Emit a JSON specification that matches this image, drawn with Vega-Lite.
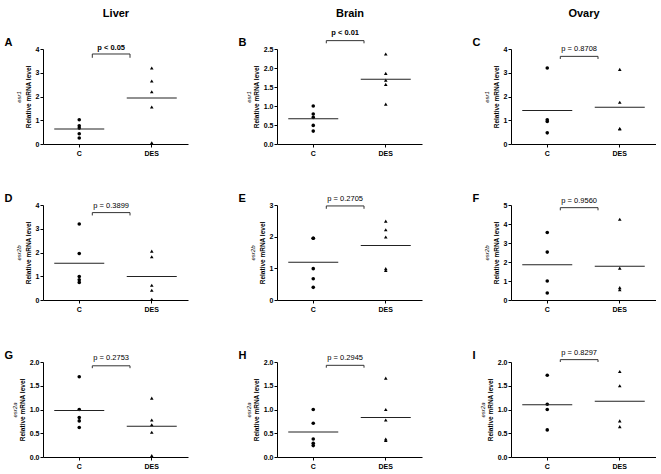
{
  "$schema": "https://vega.github.io/schema/vega-lite/v6.json",
  "padding": {"left": 4, "top": 7, "right": 0, "bottom": 0},
  "config": {
    "font": "Liberation Sans",
    "view": {"stroke": null},
    "axis": {"grid": false, "labelFont": "Liberation Sans", "titleFont": "Liberation Sans", "labelColor": "black", "titleColor": "black", "domainColor": "black", "tickColor": "black", "labelFontWeight": "bold", "labelFontSize": 7, "titleFontWeight": "bold", "titleFontSize": 6.5}
  },
  "datasets": {
    "pts": [
      {"panel": "A", "group": "C", "value": 1.02}, {"panel": "A", "group": "C", "value": 0.77}, {"panel": "A", "group": "C", "value": 0.67}, {"panel": "A", "group": "C", "value": 0.43}, {"panel": "A", "group": "C", "value": 0.25},
      {"panel": "A", "group": "DES", "value": 3.2}, {"panel": "A", "group": "DES", "value": 2.65}, {"panel": "A", "group": "DES", "value": 2.2}, {"panel": "A", "group": "DES", "value": 1.56}, {"panel": "A", "group": "DES", "value": 0.05},
      {"panel": "B", "group": "C", "value": 1.0}, {"panel": "B", "group": "C", "value": 0.79}, {"panel": "B", "group": "C", "value": 0.7}, {"panel": "B", "group": "C", "value": 0.49}, {"panel": "B", "group": "C", "value": 0.34},
      {"panel": "B", "group": "DES", "value": 2.37}, {"panel": "B", "group": "DES", "value": 1.86}, {"panel": "B", "group": "DES", "value": 1.68}, {"panel": "B", "group": "DES", "value": 1.57}, {"panel": "B", "group": "DES", "value": 1.05},
      {"panel": "C", "group": "C", "value": 3.2}, {"panel": "C", "group": "C", "value": 1.02}, {"panel": "C", "group": "C", "value": 0.95}, {"panel": "C", "group": "C", "value": 0.47},
      {"panel": "C", "group": "DES", "value": 3.14}, {"panel": "C", "group": "DES", "value": 1.76}, {"panel": "C", "group": "DES", "value": 0.63}, {"panel": "C", "group": "DES", "value": 0.65},
      {"panel": "D", "group": "C", "value": 3.2}, {"panel": "D", "group": "C", "value": 1.96}, {"panel": "D", "group": "C", "value": 0.99}, {"panel": "D", "group": "C", "value": 0.85}, {"panel": "D", "group": "C", "value": 0.74},
      {"panel": "D", "group": "DES", "value": 2.06}, {"panel": "D", "group": "DES", "value": 1.82}, {"panel": "D", "group": "DES", "value": 0.62}, {"panel": "D", "group": "DES", "value": 0.41}, {"panel": "D", "group": "DES", "value": 0.03},
      {"panel": "E", "group": "C", "value": 1.95}, {"panel": "E", "group": "C", "value": 1.95}, {"panel": "E", "group": "C", "value": 0.99}, {"panel": "E", "group": "C", "value": 0.67}, {"panel": "E", "group": "C", "value": 0.4},
      {"panel": "E", "group": "DES", "value": 2.49}, {"panel": "E", "group": "DES", "value": 2.22}, {"panel": "E", "group": "DES", "value": 1.99}, {"panel": "E", "group": "DES", "value": 0.93}, {"panel": "E", "group": "DES", "value": 0.99},
      {"panel": "F", "group": "C", "value": 3.55}, {"panel": "F", "group": "C", "value": 2.52}, {"panel": "F", "group": "C", "value": 1.0}, {"panel": "F", "group": "C", "value": 0.37},
      {"panel": "F", "group": "DES", "value": 4.25}, {"panel": "F", "group": "DES", "value": 1.68}, {"panel": "F", "group": "DES", "value": 0.54}, {"panel": "F", "group": "DES", "value": 0.65},
      {"panel": "G", "group": "C", "value": 1.69}, {"panel": "G", "group": "C", "value": 1.0}, {"panel": "G", "group": "C", "value": 0.83}, {"panel": "G", "group": "C", "value": 0.76}, {"panel": "G", "group": "C", "value": 0.62},
      {"panel": "G", "group": "DES", "value": 1.24}, {"panel": "G", "group": "DES", "value": 0.78}, {"panel": "G", "group": "DES", "value": 0.68}, {"panel": "G", "group": "DES", "value": 0.52}, {"panel": "G", "group": "DES", "value": 0.03},
      {"panel": "H", "group": "C", "value": 1.0}, {"panel": "H", "group": "C", "value": 0.71}, {"panel": "H", "group": "C", "value": 0.38}, {"panel": "H", "group": "C", "value": 0.29}, {"panel": "H", "group": "C", "value": 0.24},
      {"panel": "H", "group": "DES", "value": 1.66}, {"panel": "H", "group": "DES", "value": 1.0}, {"panel": "H", "group": "DES", "value": 0.78}, {"panel": "H", "group": "DES", "value": 0.35}, {"panel": "H", "group": "DES", "value": 0.38},
      {"panel": "I", "group": "C", "value": 1.72}, {"panel": "I", "group": "C", "value": 1.11}, {"panel": "I", "group": "C", "value": 1.0}, {"panel": "I", "group": "C", "value": 0.57},
      {"panel": "I", "group": "DES", "value": 1.8}, {"panel": "I", "group": "DES", "value": 1.5}, {"panel": "I", "group": "DES", "value": 0.76}, {"panel": "I", "group": "DES", "value": 0.64}
    ]
  },
  "columns": 3,
  "spacing": {"row": 36, "column": 50},
  "concat": [
    {
      "width": 145, "height": 95,
      "resolve": {"axis": {"x": "independent", "y": "independent"}},
      "layer": [
        {"data": {"name": "pts"}, "transform": [{"filter": "datum.panel === 'A'"}],
         "mark": {"type": "point", "filled": true, "opacity": 1, "size": 13, "color": "black"},
         "encoding": {
           "x": {"field": "group", "type": "nominal", "scale": {"type": "band", "domain": ["C", "DES"], "paddingInner": 0, "paddingOuter": 0}, "axis": {"title": null, "labelAngle": 0, "tickSize": 3, "labelPadding": 2}},
           "y": {"field": "value", "type": "quantitative", "scale": {"domain": [0, 4], "nice": false}, "axis": {"values": [0, 1, 2, 3, 4], "format": "d", "title": "Relative mRNA level", "titlePadding": 4, "tickSize": 3, "labelPadding": 1}},
           "shape": {"field": "group", "type": "nominal", "scale": {"domain": ["C", "DES"], "range": ["circle", "triangle-up"]}, "legend": null}}},
        {"data": {"name": "pts"}, "transform": [{"filter": "datum.panel === 'A'"}],
         "mark": {"type": "tick", "size": 50, "thickness": 1, "color": "#222"},
         "encoding": {
           "x": {"field": "group", "type": "nominal", "axis": {"orient": "top", "title": "A", "labels": false, "ticks": false, "domain": false, "titleX": -39, "titleY": -4, "titleAngle": 0, "titleAlign": "left", "titleBaseline": "alphabetic", "titleFontSize": 11, "titleFontWeight": "bold"}},
           "y": {"aggregate": "mean", "field": "value", "type": "quantitative", "axis": {"orient": "left", "title": "esr1", "labels": false, "ticks": false, "domain": false, "titleX": -25, "titleY": 47.5, "titleAngle": 270, "titleAlign": "center", "titleBaseline": "middle", "titleFontStyle": "italic", "titleFontWeight": "normal", "titleFontSize": 6}}}},
        {"data": {"values": [{}]}, "mark": {"type": "rule", "color": "#333", "strokeWidth": 1},
         "encoding": {"x": {"datum": "C", "type": "nominal", "bandPosition": 0.68, "axis": {"orient": "top", "title": "Liver", "labels": false, "ticks": false, "domain": false, "titleX": 72.5, "titleY": -33, "titleAngle": 0, "titleAlign": "center", "titleBaseline": "alphabetic", "titleFontSize": 11, "titleFontWeight": "bold"}}, "x2": {"datum": "DES", "bandPosition": 0.2}, "y": {"datum": 3.79, "type": "quantitative", "axis": null}}},
        {"data": {"values": [{}]}, "mark": {"type": "rule", "color": "#333", "strokeWidth": 1},
         "encoding": {"x": {"datum": "C", "type": "nominal", "bandPosition": 0.68, "axis": null}, "y": {"datum": 3.79, "type": "quantitative", "axis": null}, "y2": {"datum": 3.63}}},
        {"data": {"values": [{}]}, "mark": {"type": "rule", "color": "#333", "strokeWidth": 1},
         "encoding": {"x": {"datum": "DES", "type": "nominal", "bandPosition": 0.2, "axis": null}, "y": {"datum": 3.79, "type": "quantitative", "axis": null}, "y2": {"datum": 3.63}}},
        {"data": {"values": [{"p": "p < 0.05"}]}, "mark": {"type": "text", "fontSize": 7.5, "fontWeight": "bold", "color": "black", "baseline": "middle"},
         "encoding": {"x": {"datum": "C", "type": "nominal", "bandPosition": 0.94, "axis": null}, "y": {"datum": 4.05, "type": "quantitative", "axis": null}, "text": {"field": "p", "type": "nominal"}}}
      ]
    },
    {
      "width": 145, "height": 95,
      "resolve": {"axis": {"x": "independent", "y": "independent"}},
      "layer": [
        {"data": {"name": "pts"}, "transform": [{"filter": "datum.panel === 'B'"}],
         "mark": {"type": "point", "filled": true, "opacity": 1, "size": 13, "color": "black"},
         "encoding": {
           "x": {"field": "group", "type": "nominal", "scale": {"type": "band", "domain": ["C", "DES"], "paddingInner": 0, "paddingOuter": 0}, "axis": {"title": null, "labelAngle": 0, "tickSize": 3, "labelPadding": 2}},
           "y": {"field": "value", "type": "quantitative", "scale": {"domain": [0, 2.5], "nice": false}, "axis": {"values": [0, 0.5, 1, 1.5, 2, 2.5], "format": ".1f", "title": "Relative mRNA level", "titlePadding": 4, "tickSize": 3, "labelPadding": 1}},
           "shape": {"field": "group", "type": "nominal", "scale": {"domain": ["C", "DES"], "range": ["circle", "triangle-up"]}, "legend": null}}},
        {"data": {"name": "pts"}, "transform": [{"filter": "datum.panel === 'B'"}],
         "mark": {"type": "tick", "size": 50, "thickness": 1, "color": "#222"},
         "encoding": {
           "x": {"field": "group", "type": "nominal", "axis": {"orient": "top", "title": "B", "labels": false, "ticks": false, "domain": false, "titleX": -39, "titleY": -4, "titleAngle": 0, "titleAlign": "left", "titleBaseline": "alphabetic", "titleFontSize": 11, "titleFontWeight": "bold"}},
           "y": {"aggregate": "mean", "field": "value", "type": "quantitative", "axis": {"orient": "left", "title": "esr1", "labels": false, "ticks": false, "domain": false, "titleX": -29, "titleY": 47.5, "titleAngle": 270, "titleAlign": "center", "titleBaseline": "middle", "titleFontStyle": "italic", "titleFontWeight": "normal", "titleFontSize": 6}}}},
        {"data": {"values": [{}]}, "mark": {"type": "rule", "color": "#333", "strokeWidth": 1},
         "encoding": {"x": {"datum": "C", "type": "nominal", "bandPosition": 0.68, "axis": {"orient": "top", "title": "Brain", "labels": false, "ticks": false, "domain": false, "titleX": 72.5, "titleY": -33, "titleAngle": 0, "titleAlign": "center", "titleBaseline": "alphabetic", "titleFontSize": 11, "titleFontWeight": "bold"}}, "x2": {"datum": "DES", "bandPosition": 0.2}, "y": {"datum": 2.72, "type": "quantitative", "axis": null}}},
        {"data": {"values": [{}]}, "mark": {"type": "rule", "color": "#333", "strokeWidth": 1},
         "encoding": {"x": {"datum": "C", "type": "nominal", "bandPosition": 0.68, "axis": null}, "y": {"datum": 2.72, "type": "quantitative", "axis": null}, "y2": {"datum": 2.65}}},
        {"data": {"values": [{}]}, "mark": {"type": "rule", "color": "#333", "strokeWidth": 1},
         "encoding": {"x": {"datum": "DES", "type": "nominal", "bandPosition": 0.2, "axis": null}, "y": {"datum": 2.72, "type": "quantitative", "axis": null}, "y2": {"datum": 2.65}}},
        {"data": {"values": [{"p": "p < 0.01"}]}, "mark": {"type": "text", "fontSize": 7.5, "fontWeight": "bold", "color": "black", "baseline": "middle"},
         "encoding": {"x": {"datum": "C", "type": "nominal", "bandPosition": 0.94, "axis": null}, "y": {"datum": 2.92, "type": "quantitative", "axis": null}, "text": {"field": "p", "type": "nominal"}}}
      ]
    },
    {
      "width": 145, "height": 95,
      "resolve": {"axis": {"x": "independent", "y": "independent"}},
      "layer": [
        {"data": {"name": "pts"}, "transform": [{"filter": "datum.panel === 'C'"}],
         "mark": {"type": "point", "filled": true, "opacity": 1, "size": 13, "color": "black"},
         "encoding": {
           "x": {"field": "group", "type": "nominal", "scale": {"type": "band", "domain": ["C", "DES"], "paddingInner": 0, "paddingOuter": 0}, "axis": {"title": null, "labelAngle": 0, "tickSize": 3, "labelPadding": 2}},
           "y": {"field": "value", "type": "quantitative", "scale": {"domain": [0, 4], "nice": false}, "axis": {"values": [0, 1, 2, 3, 4], "format": "d", "title": "Relative mRNA level", "titlePadding": 4, "tickSize": 3, "labelPadding": 1}},
           "shape": {"field": "group", "type": "nominal", "scale": {"domain": ["C", "DES"], "range": ["circle", "triangle-up"]}, "legend": null}}},
        {"data": {"name": "pts"}, "transform": [{"filter": "datum.panel === 'C'"}],
         "mark": {"type": "tick", "size": 50, "thickness": 1, "color": "#222"},
         "encoding": {
           "x": {"field": "group", "type": "nominal", "axis": {"orient": "top", "title": "C", "labels": false, "ticks": false, "domain": false, "titleX": -39, "titleY": -4, "titleAngle": 0, "titleAlign": "left", "titleBaseline": "alphabetic", "titleFontSize": 11, "titleFontWeight": "bold"}},
           "y": {"aggregate": "mean", "field": "value", "type": "quantitative", "axis": {"orient": "left", "title": "esr1", "labels": false, "ticks": false, "domain": false, "titleX": -25, "titleY": 47.5, "titleAngle": 270, "titleAlign": "center", "titleBaseline": "middle", "titleFontStyle": "italic", "titleFontWeight": "normal", "titleFontSize": 6}}}},
        {"data": {"values": [{}]}, "mark": {"type": "rule", "color": "#333", "strokeWidth": 1},
         "encoding": {"x": {"datum": "C", "type": "nominal", "bandPosition": 0.68, "axis": {"orient": "top", "title": "Ovary", "labels": false, "ticks": false, "domain": false, "titleX": 72.5, "titleY": -33, "titleAngle": 0, "titleAlign": "center", "titleBaseline": "alphabetic", "titleFontSize": 11, "titleFontWeight": "bold"}}, "x2": {"datum": "DES", "bandPosition": 0.2}, "y": {"datum": 3.69, "type": "quantitative", "axis": null}}},
        {"data": {"values": [{}]}, "mark": {"type": "rule", "color": "#333", "strokeWidth": 1},
         "encoding": {"x": {"datum": "C", "type": "nominal", "bandPosition": 0.68, "axis": null}, "y": {"datum": 3.69, "type": "quantitative", "axis": null}, "y2": {"datum": 3.58}}},
        {"data": {"values": [{}]}, "mark": {"type": "rule", "color": "#333", "strokeWidth": 1},
         "encoding": {"x": {"datum": "DES", "type": "nominal", "bandPosition": 0.2, "axis": null}, "y": {"datum": 3.69, "type": "quantitative", "axis": null}, "y2": {"datum": 3.58}}},
        {"data": {"values": [{"p": "p = 0.8708"}]}, "mark": {"type": "text", "fontSize": 7.5, "fontWeight": "normal", "color": "black", "baseline": "middle"},
         "encoding": {"x": {"datum": "C", "type": "nominal", "bandPosition": 0.94, "axis": null}, "y": {"datum": 4.0, "type": "quantitative", "axis": null}, "text": {"field": "p", "type": "nominal"}}}
      ]
    },
    {
      "width": 145, "height": 95,
      "resolve": {"axis": {"x": "independent", "y": "independent"}},
      "layer": [
        {"data": {"name": "pts"}, "transform": [{"filter": "datum.panel === 'D'"}],
         "mark": {"type": "point", "filled": true, "opacity": 1, "size": 13, "color": "black"},
         "encoding": {
           "x": {"field": "group", "type": "nominal", "scale": {"type": "band", "domain": ["C", "DES"], "paddingInner": 0, "paddingOuter": 0}, "axis": {"title": null, "labelAngle": 0, "tickSize": 3, "labelPadding": 2}},
           "y": {"field": "value", "type": "quantitative", "scale": {"domain": [0, 4], "nice": false}, "axis": {"values": [0, 1, 2, 3, 4], "format": "d", "title": "Relative mRNA level", "titlePadding": 4, "tickSize": 3, "labelPadding": 1}},
           "shape": {"field": "group", "type": "nominal", "scale": {"domain": ["C", "DES"], "range": ["circle", "triangle-up"]}, "legend": null}}},
        {"data": {"name": "pts"}, "transform": [{"filter": "datum.panel === 'D'"}],
         "mark": {"type": "tick", "size": 50, "thickness": 1, "color": "#222"},
         "encoding": {
           "x": {"field": "group", "type": "nominal", "axis": {"orient": "top", "title": "D", "labels": false, "ticks": false, "domain": false, "titleX": -39, "titleY": -4, "titleAngle": 0, "titleAlign": "left", "titleBaseline": "alphabetic", "titleFontSize": 11, "titleFontWeight": "bold"}},
           "y": {"aggregate": "mean", "field": "value", "type": "quantitative", "axis": {"orient": "left", "title": "esr2b", "labels": false, "ticks": false, "domain": false, "titleX": -25, "titleY": 47.5, "titleAngle": 270, "titleAlign": "center", "titleBaseline": "middle", "titleFontStyle": "italic", "titleFontWeight": "normal", "titleFontSize": 6}}}},
        {"data": {"values": [{}]}, "mark": {"type": "rule", "color": "#333", "strokeWidth": 1},
         "encoding": {"x": {"datum": "C", "type": "nominal", "bandPosition": 0.68, "axis": null}, "x2": {"datum": "DES", "bandPosition": 0.2}, "y": {"datum": 3.68, "type": "quantitative", "axis": null}}},
        {"data": {"values": [{}]}, "mark": {"type": "rule", "color": "#333", "strokeWidth": 1},
         "encoding": {"x": {"datum": "C", "type": "nominal", "bandPosition": 0.68, "axis": null}, "y": {"datum": 3.68, "type": "quantitative", "axis": null}, "y2": {"datum": 3.56}}},
        {"data": {"values": [{}]}, "mark": {"type": "rule", "color": "#333", "strokeWidth": 1},
         "encoding": {"x": {"datum": "DES", "type": "nominal", "bandPosition": 0.2, "axis": null}, "y": {"datum": 3.68, "type": "quantitative", "axis": null}, "y2": {"datum": 3.56}}},
        {"data": {"values": [{"p": "p = 0.3899"}]}, "mark": {"type": "text", "fontSize": 7.5, "fontWeight": "normal", "color": "black", "baseline": "middle"},
         "encoding": {"x": {"datum": "C", "type": "nominal", "bandPosition": 0.94, "axis": null}, "y": {"datum": 3.96, "type": "quantitative", "axis": null}, "text": {"field": "p", "type": "nominal"}}}
      ]
    },
    {
      "width": 145, "height": 95,
      "resolve": {"axis": {"x": "independent", "y": "independent"}},
      "layer": [
        {"data": {"name": "pts"}, "transform": [{"filter": "datum.panel === 'E'"}],
         "mark": {"type": "point", "filled": true, "opacity": 1, "size": 13, "color": "black"},
         "encoding": {
           "x": {"field": "group", "type": "nominal", "scale": {"type": "band", "domain": ["C", "DES"], "paddingInner": 0, "paddingOuter": 0}, "axis": {"title": null, "labelAngle": 0, "tickSize": 3, "labelPadding": 2}},
           "y": {"field": "value", "type": "quantitative", "scale": {"domain": [0, 3], "nice": false}, "axis": {"values": [0, 1, 2, 3], "format": "d", "title": "Relative mRNA level", "titlePadding": 4, "tickSize": 3, "labelPadding": 1}},
           "shape": {"field": "group", "type": "nominal", "scale": {"domain": ["C", "DES"], "range": ["circle", "triangle-up"]}, "legend": null}}},
        {"data": {"name": "pts"}, "transform": [{"filter": "datum.panel === 'E'"}],
         "mark": {"type": "tick", "size": 50, "thickness": 1, "color": "#222"},
         "encoding": {
           "x": {"field": "group", "type": "nominal", "axis": {"orient": "top", "title": "E", "labels": false, "ticks": false, "domain": false, "titleX": -39, "titleY": -4, "titleAngle": 0, "titleAlign": "left", "titleBaseline": "alphabetic", "titleFontSize": 11, "titleFontWeight": "bold"}},
           "y": {"aggregate": "mean", "field": "value", "type": "quantitative", "axis": {"orient": "left", "title": "esr2b", "labels": false, "ticks": false, "domain": false, "titleX": -25, "titleY": 47.5, "titleAngle": 270, "titleAlign": "center", "titleBaseline": "middle", "titleFontStyle": "italic", "titleFontWeight": "normal", "titleFontSize": 6}}}},
        {"data": {"values": [{}]}, "mark": {"type": "rule", "color": "#333", "strokeWidth": 1},
         "encoding": {"x": {"datum": "C", "type": "nominal", "bandPosition": 0.68, "axis": null}, "x2": {"datum": "DES", "bandPosition": 0.2}, "y": {"datum": 2.97, "type": "quantitative", "axis": null}}},
        {"data": {"values": [{}]}, "mark": {"type": "rule", "color": "#333", "strokeWidth": 1},
         "encoding": {"x": {"datum": "C", "type": "nominal", "bandPosition": 0.68, "axis": null}, "y": {"datum": 2.97, "type": "quantitative", "axis": null}, "y2": {"datum": 2.88}}},
        {"data": {"values": [{}]}, "mark": {"type": "rule", "color": "#333", "strokeWidth": 1},
         "encoding": {"x": {"datum": "DES", "type": "nominal", "bandPosition": 0.2, "axis": null}, "y": {"datum": 2.97, "type": "quantitative", "axis": null}, "y2": {"datum": 2.88}}},
        {"data": {"values": [{"p": "p = 0.2705"}]}, "mark": {"type": "text", "fontSize": 7.5, "fontWeight": "normal", "color": "black", "baseline": "middle"},
         "encoding": {"x": {"datum": "C", "type": "nominal", "bandPosition": 0.94, "axis": null}, "y": {"datum": 3.18, "type": "quantitative", "axis": null}, "text": {"field": "p", "type": "nominal"}}}
      ]
    },
    {
      "width": 145, "height": 95,
      "resolve": {"axis": {"x": "independent", "y": "independent"}},
      "layer": [
        {"data": {"name": "pts"}, "transform": [{"filter": "datum.panel === 'F'"}],
         "mark": {"type": "point", "filled": true, "opacity": 1, "size": 13, "color": "black"},
         "encoding": {
           "x": {"field": "group", "type": "nominal", "scale": {"type": "band", "domain": ["C", "DES"], "paddingInner": 0, "paddingOuter": 0}, "axis": {"title": null, "labelAngle": 0, "tickSize": 3, "labelPadding": 2}},
           "y": {"field": "value", "type": "quantitative", "scale": {"domain": [0, 5], "nice": false}, "axis": {"values": [0, 1, 2, 3, 4, 5], "format": "d", "title": "Relative mRNA level", "titlePadding": 4, "tickSize": 3, "labelPadding": 1}},
           "shape": {"field": "group", "type": "nominal", "scale": {"domain": ["C", "DES"], "range": ["circle", "triangle-up"]}, "legend": null}}},
        {"data": {"name": "pts"}, "transform": [{"filter": "datum.panel === 'F'"}],
         "mark": {"type": "tick", "size": 50, "thickness": 1, "color": "#222"},
         "encoding": {
           "x": {"field": "group", "type": "nominal", "axis": {"orient": "top", "title": "F", "labels": false, "ticks": false, "domain": false, "titleX": -39, "titleY": -4, "titleAngle": 0, "titleAlign": "left", "titleBaseline": "alphabetic", "titleFontSize": 11, "titleFontWeight": "bold"}},
           "y": {"aggregate": "mean", "field": "value", "type": "quantitative", "axis": {"orient": "left", "title": "esr2b", "labels": false, "ticks": false, "domain": false, "titleX": -25, "titleY": 47.5, "titleAngle": 270, "titleAlign": "center", "titleBaseline": "middle", "titleFontStyle": "italic", "titleFontWeight": "normal", "titleFontSize": 6}}}},
        {"data": {"values": [{}]}, "mark": {"type": "rule", "color": "#333", "strokeWidth": 1},
         "encoding": {"x": {"datum": "C", "type": "nominal", "bandPosition": 0.68, "axis": null}, "x2": {"datum": "DES", "bandPosition": 0.2}, "y": {"datum": 4.86, "type": "quantitative", "axis": null}}},
        {"data": {"values": [{}]}, "mark": {"type": "rule", "color": "#333", "strokeWidth": 1},
         "encoding": {"x": {"datum": "C", "type": "nominal", "bandPosition": 0.68, "axis": null}, "y": {"datum": 4.86, "type": "quantitative", "axis": null}, "y2": {"datum": 4.72}}},
        {"data": {"values": [{}]}, "mark": {"type": "rule", "color": "#333", "strokeWidth": 1},
         "encoding": {"x": {"datum": "DES", "type": "nominal", "bandPosition": 0.2, "axis": null}, "y": {"datum": 4.86, "type": "quantitative", "axis": null}, "y2": {"datum": 4.72}}},
        {"data": {"values": [{"p": "p = 0.9560"}]}, "mark": {"type": "text", "fontSize": 7.5, "fontWeight": "normal", "color": "black", "baseline": "middle"},
         "encoding": {"x": {"datum": "C", "type": "nominal", "bandPosition": 0.94, "axis": null}, "y": {"datum": 5.2, "type": "quantitative", "axis": null}, "text": {"field": "p", "type": "nominal"}}}
      ]
    },
    {
      "width": 145, "height": 95,
      "resolve": {"axis": {"x": "independent", "y": "independent"}},
      "layer": [
        {"data": {"name": "pts"}, "transform": [{"filter": "datum.panel === 'G'"}],
         "mark": {"type": "point", "filled": true, "opacity": 1, "size": 13, "color": "black"},
         "encoding": {
           "x": {"field": "group", "type": "nominal", "scale": {"type": "band", "domain": ["C", "DES"], "paddingInner": 0, "paddingOuter": 0}, "axis": {"title": null, "labelAngle": 0, "tickSize": 3, "labelPadding": 2}},
           "y": {"field": "value", "type": "quantitative", "scale": {"domain": [0, 2], "nice": false}, "axis": {"values": [0, 0.5, 1, 1.5, 2], "format": ".1f", "title": "Relative mRNA level", "titlePadding": 4, "tickSize": 3, "labelPadding": 1}},
           "shape": {"field": "group", "type": "nominal", "scale": {"domain": ["C", "DES"], "range": ["circle", "triangle-up"]}, "legend": null}}},
        {"data": {"name": "pts"}, "transform": [{"filter": "datum.panel === 'G'"}],
         "mark": {"type": "tick", "size": 50, "thickness": 1, "color": "#222"},
         "encoding": {
           "x": {"field": "group", "type": "nominal", "axis": {"orient": "top", "title": "G", "labels": false, "ticks": false, "domain": false, "titleX": -39, "titleY": -4, "titleAngle": 0, "titleAlign": "left", "titleBaseline": "alphabetic", "titleFontSize": 11, "titleFontWeight": "bold"}},
           "y": {"aggregate": "mean", "field": "value", "type": "quantitative", "axis": {"orient": "left", "title": "esr2a", "labels": false, "ticks": false, "domain": false, "titleX": -29, "titleY": 47.5, "titleAngle": 270, "titleAlign": "center", "titleBaseline": "middle", "titleFontStyle": "italic", "titleFontWeight": "normal", "titleFontSize": 6}}}},
        {"data": {"values": [{}]}, "mark": {"type": "rule", "color": "#333", "strokeWidth": 1},
         "encoding": {"x": {"datum": "C", "type": "nominal", "bandPosition": 0.68, "axis": null}, "x2": {"datum": "DES", "bandPosition": 0.2}, "y": {"datum": 1.92, "type": "quantitative", "axis": null}}},
        {"data": {"values": [{}]}, "mark": {"type": "rule", "color": "#333", "strokeWidth": 1},
         "encoding": {"x": {"datum": "C", "type": "nominal", "bandPosition": 0.68, "axis": null}, "y": {"datum": 1.92, "type": "quantitative", "axis": null}, "y2": {"datum": 1.87}}},
        {"data": {"values": [{}]}, "mark": {"type": "rule", "color": "#333", "strokeWidth": 1},
         "encoding": {"x": {"datum": "DES", "type": "nominal", "bandPosition": 0.2, "axis": null}, "y": {"datum": 1.92, "type": "quantitative", "axis": null}, "y2": {"datum": 1.87}}},
        {"data": {"values": [{"p": "p = 0.2753"}]}, "mark": {"type": "text", "fontSize": 7.5, "fontWeight": "normal", "color": "black", "baseline": "middle"},
         "encoding": {"x": {"datum": "C", "type": "nominal", "bandPosition": 0.94, "axis": null}, "y": {"datum": 2.09, "type": "quantitative", "axis": null}, "text": {"field": "p", "type": "nominal"}}}
      ]
    },
    {
      "width": 145, "height": 95,
      "resolve": {"axis": {"x": "independent", "y": "independent"}},
      "layer": [
        {"data": {"name": "pts"}, "transform": [{"filter": "datum.panel === 'H'"}],
         "mark": {"type": "point", "filled": true, "opacity": 1, "size": 13, "color": "black"},
         "encoding": {
           "x": {"field": "group", "type": "nominal", "scale": {"type": "band", "domain": ["C", "DES"], "paddingInner": 0, "paddingOuter": 0}, "axis": {"title": null, "labelAngle": 0, "tickSize": 3, "labelPadding": 2}},
           "y": {"field": "value", "type": "quantitative", "scale": {"domain": [0, 2], "nice": false}, "axis": {"values": [0, 0.5, 1, 1.5, 2], "format": ".1f", "title": "Relative mRNA level", "titlePadding": 4, "tickSize": 3, "labelPadding": 1}},
           "shape": {"field": "group", "type": "nominal", "scale": {"domain": ["C", "DES"], "range": ["circle", "triangle-up"]}, "legend": null}}},
        {"data": {"name": "pts"}, "transform": [{"filter": "datum.panel === 'H'"}],
         "mark": {"type": "tick", "size": 50, "thickness": 1, "color": "#222"},
         "encoding": {
           "x": {"field": "group", "type": "nominal", "axis": {"orient": "top", "title": "H", "labels": false, "ticks": false, "domain": false, "titleX": -39, "titleY": -4, "titleAngle": 0, "titleAlign": "left", "titleBaseline": "alphabetic", "titleFontSize": 11, "titleFontWeight": "bold"}},
           "y": {"aggregate": "mean", "field": "value", "type": "quantitative", "axis": {"orient": "left", "title": "esr2a", "labels": false, "ticks": false, "domain": false, "titleX": -29, "titleY": 47.5, "titleAngle": 270, "titleAlign": "center", "titleBaseline": "middle", "titleFontStyle": "italic", "titleFontWeight": "normal", "titleFontSize": 6}}}},
        {"data": {"values": [{}]}, "mark": {"type": "rule", "color": "#333", "strokeWidth": 1},
         "encoding": {"x": {"datum": "C", "type": "nominal", "bandPosition": 0.68, "axis": null}, "x2": {"datum": "DES", "bandPosition": 0.2}, "y": {"datum": 1.93, "type": "quantitative", "axis": null}}},
        {"data": {"values": [{}]}, "mark": {"type": "rule", "color": "#333", "strokeWidth": 1},
         "encoding": {"x": {"datum": "C", "type": "nominal", "bandPosition": 0.68, "axis": null}, "y": {"datum": 1.93, "type": "quantitative", "axis": null}, "y2": {"datum": 1.88}}},
        {"data": {"values": [{}]}, "mark": {"type": "rule", "color": "#333", "strokeWidth": 1},
         "encoding": {"x": {"datum": "DES", "type": "nominal", "bandPosition": 0.2, "axis": null}, "y": {"datum": 1.93, "type": "quantitative", "axis": null}, "y2": {"datum": 1.88}}},
        {"data": {"values": [{"p": "p = 0.2945"}]}, "mark": {"type": "text", "fontSize": 7.5, "fontWeight": "normal", "color": "black", "baseline": "middle"},
         "encoding": {"x": {"datum": "C", "type": "nominal", "bandPosition": 0.94, "axis": null}, "y": {"datum": 2.09, "type": "quantitative", "axis": null}, "text": {"field": "p", "type": "nominal"}}}
      ]
    },
    {
      "width": 145, "height": 95,
      "resolve": {"axis": {"x": "independent", "y": "independent"}},
      "layer": [
        {"data": {"name": "pts"}, "transform": [{"filter": "datum.panel === 'I'"}],
         "mark": {"type": "point", "filled": true, "opacity": 1, "size": 13, "color": "black"},
         "encoding": {
           "x": {"field": "group", "type": "nominal", "scale": {"type": "band", "domain": ["C", "DES"], "paddingInner": 0, "paddingOuter": 0}, "axis": {"title": null, "labelAngle": 0, "tickSize": 3, "labelPadding": 2}},
           "y": {"field": "value", "type": "quantitative", "scale": {"domain": [0, 2], "nice": false}, "axis": {"values": [0, 0.5, 1, 1.5, 2], "format": ".1f", "title": "Relative mRNA level", "titlePadding": 4, "tickSize": 3, "labelPadding": 1}},
           "shape": {"field": "group", "type": "nominal", "scale": {"domain": ["C", "DES"], "range": ["circle", "triangle-up"]}, "legend": null}}},
        {"data": {"name": "pts"}, "transform": [{"filter": "datum.panel === 'I'"}],
         "mark": {"type": "tick", "size": 50, "thickness": 1, "color": "#222"},
         "encoding": {
           "x": {"field": "group", "type": "nominal", "axis": {"orient": "top", "title": "I", "labels": false, "ticks": false, "domain": false, "titleX": -39, "titleY": -4, "titleAngle": 0, "titleAlign": "left", "titleBaseline": "alphabetic", "titleFontSize": 11, "titleFontWeight": "bold"}},
           "y": {"aggregate": "mean", "field": "value", "type": "quantitative", "axis": {"orient": "left", "title": "esr2a", "labels": false, "ticks": false, "domain": false, "titleX": -29, "titleY": 47.5, "titleAngle": 270, "titleAlign": "center", "titleBaseline": "middle", "titleFontStyle": "italic", "titleFontWeight": "normal", "titleFontSize": 6}}}},
        {"data": {"values": [{}]}, "mark": {"type": "rule", "color": "#333", "strokeWidth": 1},
         "encoding": {"x": {"datum": "C", "type": "nominal", "bandPosition": 0.68, "axis": null}, "x2": {"datum": "DES", "bandPosition": 0.2}, "y": {"datum": 2.05, "type": "quantitative", "axis": null}}},
        {"data": {"values": [{}]}, "mark": {"type": "rule", "color": "#333", "strokeWidth": 1},
         "encoding": {"x": {"datum": "C", "type": "nominal", "bandPosition": 0.68, "axis": null}, "y": {"datum": 2.05, "type": "quantitative", "axis": null}, "y2": {"datum": 2.0}}},
        {"data": {"values": [{}]}, "mark": {"type": "rule", "color": "#333", "strokeWidth": 1},
         "encoding": {"x": {"datum": "DES", "type": "nominal", "bandPosition": 0.2, "axis": null}, "y": {"datum": 2.05, "type": "quantitative", "axis": null}, "y2": {"datum": 2.0}}},
        {"data": {"values": [{"p": "p = 0.8297"}]}, "mark": {"type": "text", "fontSize": 7.5, "fontWeight": "normal", "color": "black", "baseline": "middle"},
         "encoding": {"x": {"datum": "C", "type": "nominal", "bandPosition": 0.94, "axis": null}, "y": {"datum": 2.2, "type": "quantitative", "axis": null}, "text": {"field": "p", "type": "nominal"}}}
      ]
    }
  ]
}
